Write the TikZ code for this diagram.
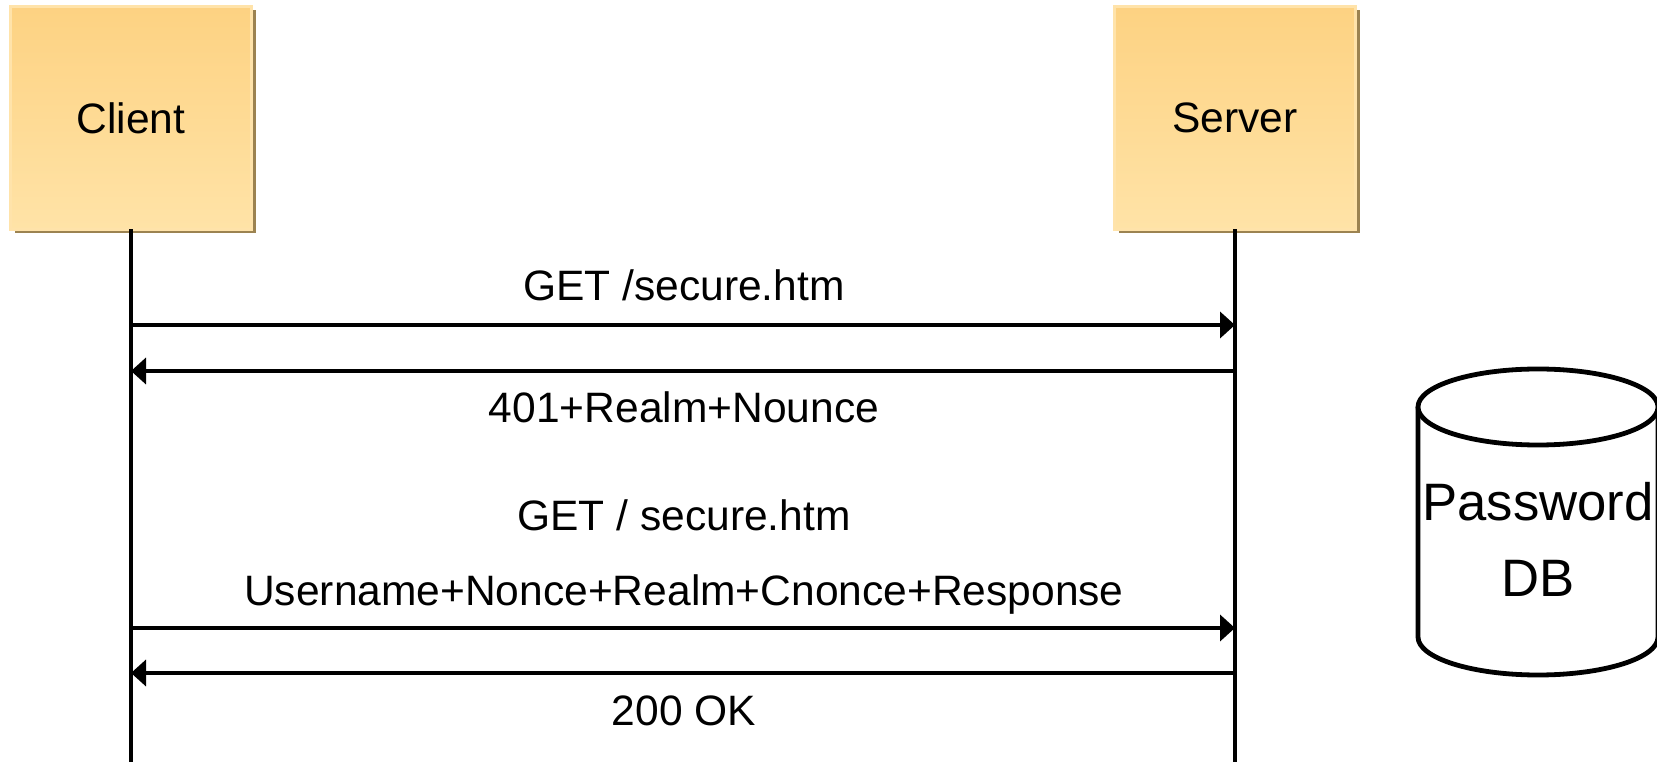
\documentclass[tikz,border=0pt]{standalone}
\usepackage{fontspec}
\setmainfont{Liberation Sans}
\usetikzlibrary{arrows.meta,shadows}
\definecolor{boxtop}{HTML}{FDD282}
\definecolor{boxbot}{HTML}{FFE3A7}
\definecolor{boxline}{HTML}{FFE3AA}
\definecolor{boxshadow}{HTML}{9C8351}
\begin{document}
\begin{tikzpicture}[x=0.75pt,y=-0.75pt,
  actor/.style={rectangle, inner sep=0pt, outer sep=0pt,
    minimum width=180.75pt, minimum height=167.25pt,
    top color=boxtop, bottom color=boxbot, draw=boxline, line width=2.25pt,
    font=\fontsize{31.9}{38}\selectfont,
    drop shadow={shadow xshift=3pt, shadow yshift=-3pt, fill=boxshadow, opacity=1}},
  life/.style={line width=3.7pt},
  msg/.style={line width=3.6pt, -{Triangle[length=11.25pt,width=19.5pt]}},
  lbl/.style={font=\fontsize{31.9}{38}\selectfont, anchor=base, inner sep=0pt},
  dblbl/.style={font=\fontsize{39.5}{46}\selectfont, anchor=base, inner sep=0pt},
  dbshape/.style={line width=3.6pt, fill=white}]
\useasboundingbox (0,0) rectangle (1657,762);

% actors
\node[actor] (client) at (131,118) {Client};
\node[actor] (server) at (1235,118) {Server};

% lifelines
\coordinate (cend) at (131,762);
\coordinate (send) at (1235,762);
\draw[life] (client.south) -- (cend);
\draw[life] (server.south) -- (send);

% message anchor points
\coordinate (c1) at (131,325);
\coordinate (s1) at (1235,325);
\coordinate (c2) at (131,371);
\coordinate (s2) at (1235,371);
\coordinate (c3) at (131,628);
\coordinate (s3) at (1235,628);
\coordinate (c4) at (131,673);
\coordinate (s4) at (1235,673);

\draw[msg] (c1) -- (s1);
\draw[msg] (s2) -- (c2);
\draw[msg] (c3) -- (s3);
\draw[msg] (s4) -- (c4);

% labels
\node[lbl] (l1) at (684,301) {GET /secure.htm};
\node[lbl] (l2) at (684,423) {401+Realm+Nounce};
\node[lbl] (l3) at (684,531) {GET / secure.htm};
\node[lbl] (l4) at (684,606) {Username+Nonce+Realm+Cnonce+Response};
\node[lbl] (l5) at (684,725) {200 OK};

% database cylinder
\draw[dbshape] (1418,407) -- (1418,637)
  arc[start angle=180, end angle=0, x radius=120, y radius=38]
  -- (1658,407);
\draw[dbshape] (1538,407) ellipse [x radius=120, y radius=38];
\node[dblbl] (db1) at (1538,521) {Password};
\node[dblbl] (db2) at (1538,597) {DB};
\end{tikzpicture}
\end{document}
